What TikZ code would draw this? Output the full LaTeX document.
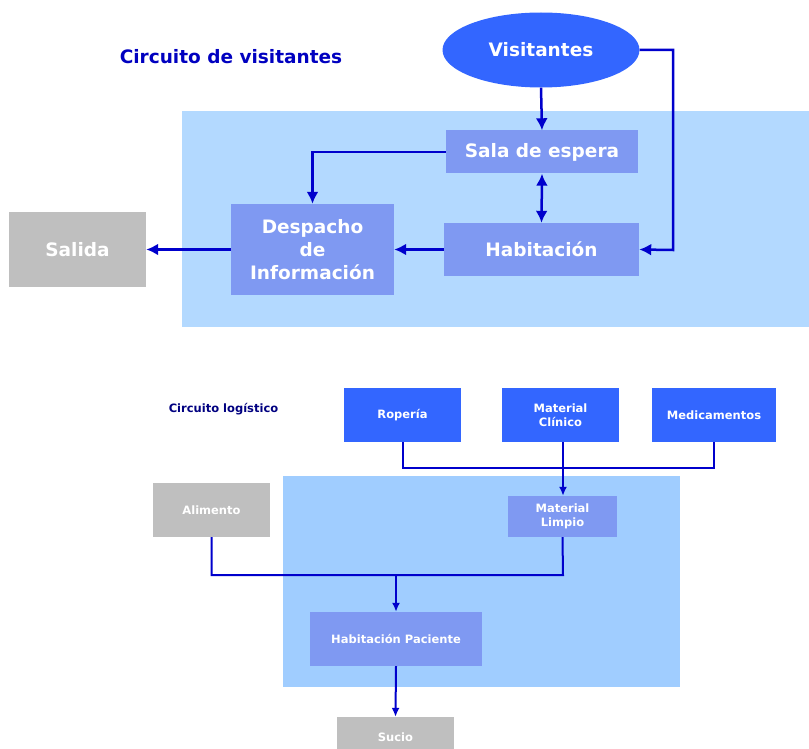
\documentclass[tikz,border=0pt]{standalone}
\usepackage{fontspec}
\setmainfont{DejaVu Sans}
\usepackage{tikz}
\usepackage{xcolor}
\usetikzlibrary{arrows.meta,shapes.geometric}
\definecolor{vivid-blue}{HTML}{3366FF}
\definecolor{soft-blue}{HTML}{7F99F2}
\definecolor{zone-top}{HTML}{B3D9FF}
\definecolor{zone-bottom}{HTML}{A0CDFF}
\definecolor{link-blue}{HTML}{0000CC}
\definecolor{title-blue}{HTML}{0000C0}
\definecolor{title-navy}{HTML}{000080}
\tikzset{
    base-box/.style = {rectangle, inner sep=0pt, text=white, font=\bfseries, align=center},
    vivid-box/.style = {base-box, fill=vivid-blue},
    soft-box/.style = {base-box, fill=soft-blue},
    grey-box/.style = {base-box, fill=black!25},
    big-text/.style = {font=\bfseries\fontsize{18.5}{23}\selectfont},
    small-text/.style = {font=\bfseries\fontsize{11.5}{14}\selectfont},
    big-link/.style = {draw=link-blue, line width=2.5pt, -{Latex[length=12pt,width=12pt]}},
    small-link/.style = {draw=link-blue, line width=2pt, -{Latex[length=9pt,width=8pt]}},
    small-line/.style = {draw=link-blue, line width=2pt},
}
\begin{document}
\begin{tikzpicture}[x=1pt, y=-1pt]
\useasboundingbox (0,0) rectangle (809,749);
% visitor circuit
\fill[zone-top] (182,111) rectangle (809,327);
\node[text=title-blue, font=\bfseries\fontsize{18.5}{22}\selectfont] (title-visit) at (231,57) {Circuito de visitantes};
\node[ellipse, fill=vivid-blue, text=white, big-text, minimum width=197pt, minimum height=75pt, inner sep=0pt] (visitantes) at (541,50) {Visitantes};
\node[soft-box, big-text, minimum width=192pt, minimum height=43pt] (sala) at (542,152) {Sala de espera};
\node[soft-box, big-text, minimum width=195pt, minimum height=53pt] (habitacion) at (541.5,249.5) {Habitación};
\node[soft-box, big-text, minimum width=163pt, minimum height=91pt] (despacho) at (312.5,249.5) {Despacho\\de\\Información};
\node[grey-box, big-text, minimum width=137pt, minimum height=75pt] (salida) at (77.5,249.5) {Salida};

\draw[big-link] (visitantes.south) -- (sala.north);
\draw[big-link] (visitantes.east) -- (673,50) -- (673,250) -- (habitacion.east);
\draw[big-link] (sala.west) -| (despacho.north);
\draw[big-link, {Latex[length=12pt,width=12pt]}-{Latex[length=12pt,width=12pt]}] (sala.south) -- (habitacion.north);
\draw[big-link] (habitacion.west) -- (despacho.east);
\draw[big-link] (despacho.west) -- (salida.east);

% logistic circuit
\fill[zone-bottom] (283,476) rectangle (680,687);
\node[text=title-navy, small-text] (title-logis) at (223.5,409) {Circuito logístico};
\node[vivid-box, small-text, minimum width=117pt, minimum height=54pt] (roperia) at (402.5,415) {Ropería};
\node[vivid-box, small-text, minimum width=117pt, minimum height=54pt] (clinico) at (560.5,415) {Material\\Clínico};
\node[vivid-box, small-text, minimum width=124pt, minimum height=54pt] (medicamentos) at (714,415) {Medicamentos};
\node[grey-box, small-text, minimum width=117pt, minimum height=54pt] (alimento) at (211.5,510) {Alimento};
\node[soft-box, small-text, minimum width=109pt, minimum height=41pt] (limpio) at (562.5,516.5) {Material\\Limpio};
\node[soft-box, small-text, minimum width=172pt, minimum height=54pt] (paciente) at (396,639) {Habitación Paciente};
\node[grey-box, small-text, minimum width=117pt, minimum height=40pt] (sucio) at (395.5,737) {Sucio};

\coordinate (supply-join) at (563,468);
\coordinate (meal-join) at (396,575);
\draw[small-line] (roperia.south) -- (roperia.south |- supply-join) -- (medicamentos.south |- supply-join) -- (medicamentos.south);
\draw[small-link] (supply-join |- clinico.south) -- (supply-join |- limpio.north);
\draw[small-line] (alimento.south) |- (563,575) -- (limpio.south);
\draw[small-link] (meal-join) -- (paciente.north);
\draw[small-link] (paciente.south) -- (sucio.north);
\end{tikzpicture}
\end{document}
